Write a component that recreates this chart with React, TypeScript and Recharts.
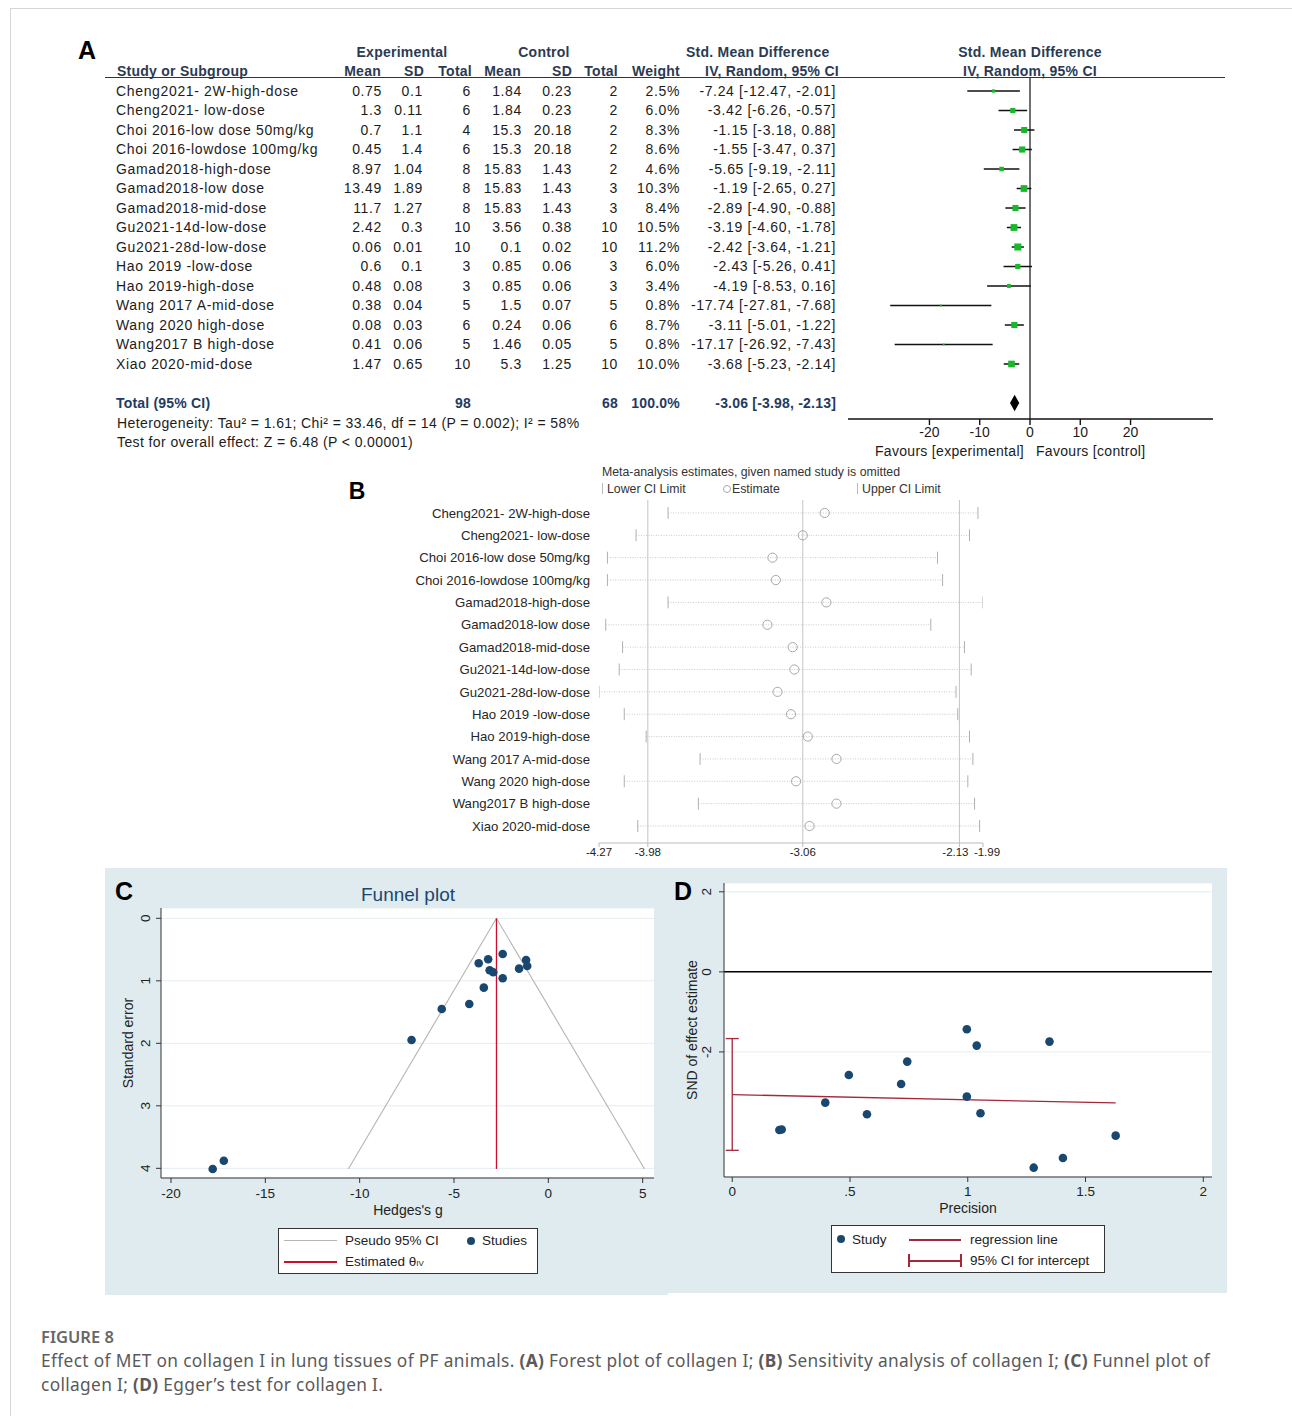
import React from "react"
import {
  ScatterChart,
  Scatter,
  XAxis,
  YAxis,
  ReferenceLine,
  ReferenceArea,
  ErrorBar,
  CartesianGrid,
} from "recharts"

// ---- Panel A: forest plot table ----
const studies = [
  "Cheng2021- 2W-high-dose",
  "Cheng2021- low-dose",
  "Choi 2016-low dose 50mg/kg",
  "Choi 2016-lowdose 100mg/kg",
  "Gamad2018-high-dose",
  "Gamad2018-low dose",
  "Gamad2018-mid-dose",
  "Gu2021-14d-low-dose",
  "Gu2021-28d-low-dose",
  "Hao 2019 -low-dose",
  "Hao 2019-high-dose",
  "Wang 2017 A-mid-dose",
  "Wang 2020 high-dose",
  "Wang2017 B high-dose",
  "Xiao 2020-mid-dose",
]
const expMean = [0.75, 1.3, 0.7, 0.45, 8.97, 13.49, 11.7, 2.42, 0.06, 0.6, 0.48, 0.38, 0.08, 0.41, 1.47]
const expSD = [0.1, 0.11, 1.1, 1.4, 1.04, 1.89, 1.27, 0.3, 0.01, 0.1, 0.08, 0.04, 0.03, 0.06, 0.65]
const expN = [6, 6, 4, 6, 8, 8, 8, 10, 10, 3, 3, 5, 6, 5, 10]
const ctlMean = [1.84, 1.84, 15.3, 15.3, 15.83, 15.83, 15.83, 3.56, 0.1, 0.85, 0.85, 1.5, 0.24, 1.46, 5.3]
const ctlSD = [0.23, 0.23, 20.18, 20.18, 1.43, 1.43, 1.43, 0.38, 0.02, 0.06, 0.06, 0.07, 0.06, 0.05, 1.25]
const ctlN = [2, 2, 2, 2, 2, 3, 3, 10, 10, 3, 3, 5, 6, 5, 10]
const weights = [2.5, 6.0, 8.3, 8.6, 4.6, 10.3, 8.4, 10.5, 11.2, 6.0, 3.4, 0.8, 8.7, 0.8, 10.0]
const smd = [-7.24, -3.42, -1.15, -1.55, -5.65, -1.19, -2.89, -3.19, -2.42, -2.43, -4.19, -17.74, -3.11, -17.17, -3.68]
const smdLo = [-12.47, -6.26, -3.18, -3.47, -9.19, -2.65, -4.9, -4.6, -3.64, -5.26, -8.53, -27.81, -5.01, -26.92, -5.23]
const smdHi = [-2.01, -0.57, 0.88, 0.37, -2.11, 0.27, -0.88, -1.78, -1.21, 0.41, 0.16, -7.68, -1.22, -7.43, -2.14]
const totalExpN = 98
const totalCtlN = 68
const totalWeight = 100
const totalSmd = -3.06
const totalLo = -3.98
const totalHi = -2.13
const TOTAL_ROW = 16
const forestTicks = [-20, -10, 0, 10, 20]

// ---- Panel B: leave-one-out ----
const sensEst = [-2.93, -3.06, -3.24, -3.22, -2.92, -3.27, -3.12, -3.11, -3.21, -3.13, -3.03, -2.86, -3.1, -2.86, -3.02]
const sensLo = [-3.86, -4.05, -4.22, -4.22, -3.86, -4.23, -4.13, -4.15, -4.27, -4.12, -3.99, -3.67, -4.12, -3.68, -4.04]
const sensHi = [-2.02, -2.07, -2.26, -2.23, -1.99, -2.3, -2.1, -2.06, -2.15, -2.14, -2.07, -2.05, -2.08, -2.04, -2.01]
const sensTicks = [-4.27, -3.98, -3.06, -2.13, -1.99]
const sensLines = [-3.98, -3.06, -2.13]

// ---- Panel C: funnel ----
const funnelG = [-2.42, -3.19, -3.69, -1.18, -1.12, -1.55, -3.11, -2.92, -2.42, -3.42, -4.19, -5.65, -7.25, -17.2, -17.79]
const funnelSE = [0.571, 0.656, 0.72, 0.667, 0.763, 0.805, 0.832, 0.864, 0.96, 1.109, 1.371, 1.451, 1.947, 3.88, 4.01]
const funnelTheta = -2.75
const funnelBaseSE = 4.01
const funnelBaseLeft = -10.6
const funnelBaseRight = 5.1
const funnelXTicks = [-20, -15, -10, -5, 0, 5]
const funnelYTicks = [0, 1, 2, 3, 4]

// ---- Panel D: Egger ----
const eggerPrec = [0.996, 1.038, 1.347, 0.743, 0.495, 0.717, 0.996, 0.395, 0.572, 1.054, 0.2, 0.21, 1.628, 1.404, 1.28]
const eggerSnd = [-1.433, -1.842, -1.742, -2.242, -2.575, -2.8, -3.117, -3.267, -3.558, -3.533, -3.95, -3.94, -4.092, -4.65, -4.892]
const eggerIntercept = -3.067
const eggerLineEnd = { x: 1.628, y: -3.275 }
const eggerCI = [-4.458, -1.667]
const eggerXTicks = [0, 0.5, 1, 1.5, 2]
const eggerYTicks = [-2, 0, 2]

const FONT = "'Liberation Sans', Arial, sans-serif"
const NAVY = "#1a476f"

const forestData = studies.map((_, i) => ({ x: smd[i], y: i, w: weights[i], err: [smd[i] - smdLo[i], smdHi[i] - smd[i]] }))
const sensEstData = studies.map((_, i) => ({ x: sensEst[i], y: i }))
const sensLoData = studies.map((_, i) => ({ x: sensLo[i], y: i }))
const sensHiData = studies.map((_, i) => ({ x: sensHi[i], y: i }))
const funnelData = funnelG.map((g, i) => ({ x: g, y: funnelSE[i] }))
const eggerData = eggerPrec.map((p, i) => ({ x: p, y: eggerSnd[i] }))
const eggerCIData = [{ x: 0, y: eggerIntercept, err: [eggerIntercept - eggerCI[0], eggerCI[1] - eggerIntercept] }]

type TProps = {
  x: number
  y: number
  a?: "start" | "middle" | "end"
  r?: number
  s?: React.CSSProperties
  children: React.ReactNode
}

const T = ({ x, y, a = "start", r, s, children }: TProps) => {
  const tx = a === "start" ? "0" : a === "middle" ? "-50%" : "-100%"
  return (
    <div
      style={{
        position: "absolute",
        left: x,
        top: y,
        transform: `translate(${tx}, -50%)${r ? ` rotate(${r}deg)` : ""}`,
        whiteSpace: "nowrap",
        lineHeight: 1,
        fontFamily: FONT,
        ...s,
      }}
    >
      {children}
    </div>
  )
}

// forest table columns, x relative to chart left
const COL = { name: 16, eMean: 282, eSD: 323, eN: 371, cMean: 422, cSD: 472, cN: 518, w: 580, ci: 736 }
const rowText = { fontSize: 14, fontFamily: FONT, letterSpacing: 0.65, fill: "#1c1c1c" }

const fmtCI = (m: number, l: number, h: number) => `${m.toFixed(2)} [${l.toFixed(2)}, ${h.toFixed(2)}]`

const ForestRow = (props: any) => {
  const { y, payload } = props
  const i = payload.value
  if (i === TOTAL_ROW) {
    const st = { ...rowText, fill: "#1f3b63", fontWeight: 700, letterSpacing: 0.2 }
    return (
      <g>
        <text x={COL.name} y={y} dy="0.35em" {...st}>Total (95% CI)</text>
        <text x={COL.eN} y={y} dy="0.35em" textAnchor="end" {...st}>{totalExpN}</text>
        <text x={COL.cN} y={y} dy="0.35em" textAnchor="end" {...st}>{totalCtlN}</text>
        <text x={COL.w} y={y} dy="0.35em" textAnchor="end" {...st}>{totalWeight.toFixed(1)}%</text>
        <text x={COL.ci} y={y} dy="0.35em" textAnchor="end" {...st}>{fmtCI(totalSmd, totalLo, totalHi)}</text>
      </g>
    )
  }
  const cells: [number, string, "start" | "end"][] = [
    [COL.name, studies[i], "start"],
    [COL.eMean, String(expMean[i]), "end"],
    [COL.eSD, String(expSD[i]), "end"],
    [COL.eN, String(expN[i]), "end"],
    [COL.cMean, String(ctlMean[i]), "end"],
    [COL.cSD, String(ctlSD[i]), "end"],
    [COL.cN, String(ctlN[i]), "end"],
    [COL.w, `${weights[i].toFixed(1)}%`, "end"],
    [COL.ci, fmtCI(smd[i], smdLo[i], smdHi[i]), "end"],
  ]
  return (
    <g>
      {cells.map(([cx, t, anchor], k) => (
        <text key={k} x={cx} y={y} dy="0.35em" textAnchor={anchor} {...rowText}>
          {t}
        </text>
      ))}
    </g>
  )
}

const WeightSquare = (props: any) => {
  const { cx, cy, payload } = props
  const s = 2.1 * Math.sqrt(payload.w)
  return <rect x={cx - s / 2} y={cy - s / 2} width={s} height={s} fill="#17b82a" />
}

const Diamond = (props: any) => {
  const { x, y, width, height } = props
  const mx = x + width / 2
  const my = y + height / 2
  return <polygon points={`${x},${my} ${mx},${y} ${x + width},${my} ${mx},${y + height}`} fill="#000" />
}

const OpenCircle = (props: any) => <circle cx={props.cx} cy={props.cy} r={4.6} fill="none" stroke="#a8a8a8" strokeWidth={1} />
const EndTick = (props: any) => <line x1={props.cx} x2={props.cx} y1={props.cy - 6} y2={props.cy + 6} stroke="#b0b0b0" strokeWidth={1} />
const Dot = (props: any) => <circle cx={props.cx} cy={props.cy} r={4.3} fill={NAVY} />
const Nothing = () => <g />

// the two right-most sensitivity labels sit very close; nudge them apart a little
const SensTick = (props: any) => {
  const { x, y, payload } = props
  const v = payload.value
  const dx = v === -2.13 ? -4 : v === -1.99 ? 4 : 0
  return (
    <text x={x + dx} y={y} dy="0.71em" textAnchor="middle" fontSize={11.5} fill="#222" fontFamily={FONT}>
      {v}
    </text>
  )
}

const makeRotTick = (fmt: (v: number) => string) => (props: any) => {
  const { x, y, payload } = props
  return (
    <text x={x} y={y} transform={`rotate(-90 ${x} ${y})`} textAnchor="middle" fontSize={13.5} fill="#222" fontFamily={FONT}>
      {fmt(payload.value)}
    </text>
  )
}
const fmtDot = (v: number) => (v === 0.5 ? ".5" : String(v))

function ForestPanel() {
  return (
    <>
      <T x={87} y={50} a="middle" s={{ fontSize: 25, fontWeight: 700 }}>A</T>
      {[
        [402, 52, "middle", "Experimental"],
        [544, 52, "middle", "Control"],
        [686, 52, "start", "Std. Mean Difference"],
        [1030, 52, "middle", "Std. Mean Difference"],
        [117, 71, "start", "Study or Subgroup"],
        [381, 71, "end", "Mean"],
        [424, 71, "end", "SD"],
        [472, 71, "end", "Total"],
        [521, 71, "end", "Mean"],
        [572, 71, "end", "SD"],
        [618, 71, "end", "Total"],
        [680, 71, "end", "Weight"],
        [705, 71, "start", "IV, Random, 95% CI"],
        [1030, 71, "middle", "IV, Random, 95% CI"],
      ].map(([x, y, a, t], k) => (
        <T key={k} x={x as number} y={y as number} a={a as any} s={{ fontSize: 14, fontWeight: 700, color: "#2b3a52", letterSpacing: 0.25 }}>
          {t}
        </T>
      ))}
      <div style={{ position: "absolute", left: 105, top: 77, width: 1120, height: 0, borderTop: "1.5px solid #333" }} />
      <div style={{ position: "absolute", left: 100, top: 40 }}>
        <ScatterChart width={1130} height={430} margin={{ top: 38, right: 17, bottom: 21, left: 0 }}>
          <XAxis
            type="number"
            dataKey="x"
            domain={[-36.2, 36.4]}
            allowDataOverflow
            ticks={forestTicks}
            interval={0}
            height={30}
            tickSize={6}
            stroke="#111"
            strokeWidth={1.4}
            tick={{ fontSize: 14, fill: "#1c1c1c", fontFamily: FONT }}
          />
          <YAxis
            type="number"
            dataKey="y"
            domain={[-0.667, 16.82]}
            allowDataOverflow
            reversed
            width={748}
            ticks={[...studies.map((_, i) => i), TOTAL_ROW]}
            interval={0}
            axisLine={false}
            tickLine={false}
            tick={(p: any) => <ForestRow {...p} />}
          />
          <ReferenceLine x={0} stroke="#111" strokeWidth={1.2} />
          <ReferenceArea x1={totalLo} x2={totalHi} y1={TOTAL_ROW - 0.42} y2={TOTAL_ROW + 0.42} shape={(p: any) => <Diamond {...p} />} />
          <Scatter data={forestData} shape={(p: any) => <WeightSquare {...p} />} isAnimationActive={false}>
            <ErrorBar dataKey="err" direction="x" width={0} stroke="#111" strokeWidth={1.5} isAnimationActive={false} />
          </Scatter>
        </ScatterChart>
      </div>
      <T x={1024} y={451} a="end" s={{ fontSize: 14, color: "#1c1c1c", letterSpacing: 0.3 }}>Favours [experimental]</T>
      <T x={1036} y={451} s={{ fontSize: 14, color: "#1c1c1c", letterSpacing: 0.3 }}>Favours [control]</T>
      <T x={117} y={423} s={{ fontSize: 14, color: "#1c1c1c", letterSpacing: 0.4 }}>
        Heterogeneity: Tau² = 1.61; Chi² = 33.46, df = 14 (P = 0.002); I² = 58%
      </T>
      <T x={117} y={442} s={{ fontSize: 14, color: "#1c1c1c", letterSpacing: 0.4 }}>
        Test for overall effect: Z = 6.48 (P &lt; 0.00001)
      </T>
    </>
  )
}

function SensitivityPanel() {
  const gray = "#333"
  return (
    <>
      <T x={357} y={491} a="middle" s={{ fontSize: 23, fontWeight: 700 }}>B</T>
      <T x={602} y={472} s={{ fontSize: 12.3, color: gray }}>Meta-analysis estimates, given named study is omitted</T>
      <div style={{ position: "absolute", left: 602, top: 483, width: 1, height: 11, background: "#bbb" }} />
      <T x={607} y={489} s={{ fontSize: 12.3, color: gray }}>Lower CI Limit</T>
      <div style={{ position: "absolute", left: 723, top: 485, width: 8, height: 8, border: "1px solid #aaa", borderRadius: "50%", boxSizing: "border-box" }} />
      <T x={732} y={489} s={{ fontSize: 12.3, color: gray }}>Estimate</T>
      <div style={{ position: "absolute", left: 857, top: 483, width: 1, height: 11, background: "#bbb" }} />
      <T x={862} y={489} s={{ fontSize: 12.3, color: gray }}>Upper CI Limit</T>
      <div style={{ position: "absolute", left: 400, top: 495 }}>
        <ScatterChart width={600} height={370} margin={{ top: 5, right: 17, bottom: 0, left: 0 }}>
          <XAxis
            type="number"
            dataKey="x"
            domain={[-4.27, -1.99]}
            allowDataOverflow
            ticks={sensTicks}
            interval={0}
            height={22}
            tickSize={4}
            tickMargin={1}
            stroke="#bbb"
            tick={(p: any) => <SensTick {...p} />}
          />
          <YAxis
            type="number"
            dataKey="y"
            domain={[-0.58, 14.76]}
            allowDataOverflow
            reversed
            width={199}
            ticks={studies.map((_, i) => i)}
            interval={0}
            axisLine={false}
            tickLine={false}
            tickSize={0}
            tickMargin={9}
            tickFormatter={(v: number) => studies[v] ?? ""}
            tick={{ fontSize: 13.2, fill: "#262626", fontFamily: FONT }}
          />
          {sensLines.map((v) => (
            <ReferenceLine key={v} x={v} stroke="#c4c4c4" strokeWidth={1} />
          ))}
          {studies.map((_, i) => (
            <ReferenceLine
              key={`s${i}`}
              segment={[
                { x: sensLo[i], y: i },
                { x: sensHi[i], y: i },
              ]}
              stroke="#c9c9c9"
              strokeDasharray="1 1.5"
            />
          ))}
          <Scatter data={sensLoData} shape={(p: any) => <EndTick {...p} />} isAnimationActive={false} />
          <Scatter data={sensHiData} shape={(p: any) => <EndTick {...p} />} isAnimationActive={false} />
          <Scatter data={sensEstData} shape={(p: any) => <OpenCircle {...p} />} isAnimationActive={false} />
        </ScatterChart>
      </div>
    </>
  )
}

function FunnelPanel() {
  return (
    <>
      <div style={{ position: "absolute", left: 105, top: 868, width: 563, height: 427, background: "#dfebee" }} />
      <div style={{ position: "absolute", left: 105, top: 868 }}>
        <ScatterChart width={563} height={427} margin={{ top: 40, right: 14, bottom: 72, left: 0 }}>
          <CartesianGrid vertical={false} stroke="#e4edf0" fill="#ffffff" />
          <XAxis
            type="number"
            dataKey="x"
            domain={[-20.53, 5.6]}
            allowDataOverflow
            ticks={funnelXTicks}
            interval={0}
            height={45}
            tickSize={5}
            tickMargin={5}
            stroke="#333"
            tick={{ fontSize: 13.5, fill: "#222", fontFamily: FONT }}
          />
          <YAxis
            type="number"
            dataKey="y"
            domain={[-0.165, 4.155]}
            allowDataOverflow
            reversed
            width={56}
            ticks={funnelYTicks}
            interval={0}
            tickSize={5}
            tickMargin={6.5}
            stroke="#333"
            tick={makeRotTick(String)}
          />
          <ReferenceLine segment={[{ x: funnelTheta, y: 0 }, { x: funnelBaseLeft, y: funnelBaseSE }]} stroke="#b5b5b5" strokeWidth={1.1} />
          <ReferenceLine segment={[{ x: funnelTheta, y: 0 }, { x: funnelBaseRight, y: funnelBaseSE }]} stroke="#b5b5b5" strokeWidth={1.1} />
          <ReferenceLine segment={[{ x: funnelTheta, y: 0 }, { x: funnelTheta, y: funnelBaseSE }]} stroke="#c8102e" strokeWidth={1.3} />
          <Scatter data={funnelData} shape={(p: any) => <Dot {...p} />} isAnimationActive={false} />
        </ScatterChart>
      </div>
      <T x={124} y={891} a="middle" s={{ fontSize: 25, fontWeight: 700 }}>C</T>
      <T x={408} y={894} a="middle" s={{ fontSize: 19, color: NAVY }}>Funnel plot</T>
      <T x={128} y={1043} a="middle" r={-90} s={{ fontSize: 14, color: "#222" }}>Standard error</T>
      <T x={408} y={1210} a="middle" s={{ fontSize: 14, color: "#222" }}>Hedges's g</T>
      <div style={{ position: "absolute", left: 278, top: 1228, width: 260, height: 46, background: "#fff", border: "1px solid #333", boxSizing: "border-box" }} />
      <div style={{ position: "absolute", left: 284, top: 1240, width: 53, height: 1.2, background: "#b5b5b5" }} />
      <T x={345} y={1241} s={{ fontSize: 13.5, color: "#222" }}>Pseudo 95% CI</T>
      <div style={{ position: "absolute", left: 467, top: 1237, width: 8, height: 8, borderRadius: "50%", background: NAVY }} />
      <T x={482} y={1241} s={{ fontSize: 13.5, color: "#222" }}>Studies</T>
      <div style={{ position: "absolute", left: 284, top: 1261, width: 53, height: 1.5, background: "#c8102e" }} />
      <T x={345} y={1262} s={{ fontSize: 13.5, color: "#222" }}>
        Estimated θ<span style={{ fontSize: 8 }}>IV</span>
      </T>
    </>
  )
}

function EggerPanel() {
  const red = "#a3283a"
  return (
    <>
      <div style={{ position: "absolute", left: 668, top: 868, width: 559, height: 425, background: "#dfebee" }} />
      <div style={{ position: "absolute", left: 668, top: 868 }}>
        <ScatterChart width={559} height={425} margin={{ top: 15, right: 15, bottom: 71, left: 0 }}>
          <CartesianGrid vertical={false} stroke="#e4edf0" fill="#ffffff" />
          <XAxis
            type="number"
            dataKey="x"
            domain={[-0.035, 2.037]}
            allowDataOverflow
            ticks={eggerXTicks}
            interval={0}
            height={45}
            tickSize={5}
            tickMargin={4}
            stroke="#333"
            tickFormatter={fmtDot}
            tick={{ fontSize: 13.5, fill: "#222", fontFamily: FONT }}
          />
          <YAxis
            type="number"
            dataKey="y"
            domain={[-5.125, 2.22]}
            allowDataOverflow
            width={56}
            ticks={eggerYTicks}
            interval={0}
            tickSize={5}
            tickMargin={7.5}
            stroke="#333"
            tick={makeRotTick(String)}
          />
          <ReferenceLine y={0} stroke="#000" strokeWidth={1.5} />
          <ReferenceLine segment={[{ x: 0, y: eggerIntercept }, eggerLineEnd]} stroke={red} strokeWidth={1.3} />
          <Scatter data={eggerCIData} shape={Nothing} isAnimationActive={false}>
            <ErrorBar dataKey="err" direction="y" width={6.5} stroke={red} strokeWidth={1.3} isAnimationActive={false} />
          </Scatter>
          <Scatter data={eggerData} shape={(p: any) => <Dot {...p} />} isAnimationActive={false} />
        </ScatterChart>
      </div>
      <T x={683} y={891} a="middle" s={{ fontSize: 25, fontWeight: 700 }}>D</T>
      <T x={692} y={1030} a="middle" r={-90} s={{ fontSize: 14, color: "#222" }}>SND of effect estimate</T>
      <T x={968} y={1208} a="middle" s={{ fontSize: 14, color: "#222" }}>Precision</T>
      <div style={{ position: "absolute", left: 831, top: 1225, width: 274, height: 48, background: "#fff", border: "1px solid #333", boxSizing: "border-box" }} />
      <div style={{ position: "absolute", left: 837, top: 1235, width: 8, height: 8, borderRadius: "50%", background: NAVY }} />
      <T x={852} y={1240} s={{ fontSize: 13.5, color: "#222" }}>Study</T>
      <div style={{ position: "absolute", left: 909, top: 1239, width: 52, height: 1.5, background: red }} />
      <T x={970} y={1240} s={{ fontSize: 13.5, color: "#222" }}>regression line</T>
      <div style={{ position: "absolute", left: 909, top: 1260, width: 52, height: 1.5, background: red }} />
      <div style={{ position: "absolute", left: 908, top: 1254, width: 1.5, height: 13, background: red }} />
      <div style={{ position: "absolute", left: 960, top: 1254, width: 1.5, height: 13, background: red }} />
      <T x={970} y={1261} s={{ fontSize: 13.5, color: "#222" }}>95% CI for intercept</T>
    </>
  )
}

function Caption() {
  const base: React.CSSProperties = { fontFamily: "'Noto Sans', 'Open Sans', sans-serif", color: "#5a5a5a", fontSize: 17.3, letterSpacing: 0.35 }
  return (
    <>
      <T x={41} y={1337} s={{ ...base, fontSize: 16.5, letterSpacing: 0, fontWeight: 600, color: "#666" }}>FIGURE 8</T>
      <T x={41} y={1361} s={base}>
        Effect of MET on collagen I in lung tissues of PF animals. <b>(A)</b> Forest plot of collagen I; <b>(B)</b> Sensitivity analysis of
        collagen I; <b>(C)</b> Funnel plot of
      </T>
      <T x={41} y={1385} s={base}>
        collagen I; <b>(D)</b> Egger’s test for collagen I.
      </T>
    </>
  )
}

export default function App() {
  return (
    <div style={{ position: "absolute", left: 0, top: 0, width: 1292, height: 1416, background: "#fff", overflow: "hidden" }}>
      <div style={{ position: "absolute", left: 10, top: 8, width: 1290, height: 1420, borderLeft: "1px solid #d6d6d6", borderTop: "1px solid #d6d6d6" }} />
      <ForestPanel />
      <SensitivityPanel />
      <FunnelPanel />
      <EggerPanel />
      <Caption />
    </div>
  )
}
